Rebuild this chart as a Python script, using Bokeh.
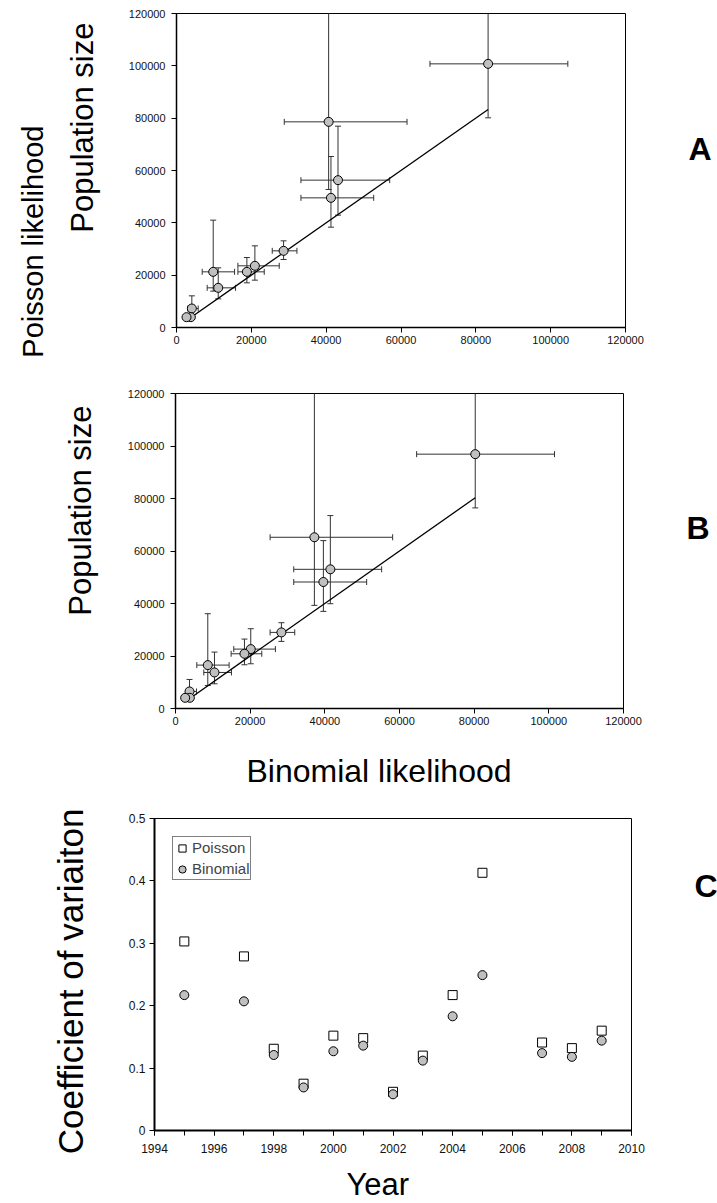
import math
from bokeh.plotting import figure
from bokeh.models import (Range1d, FixedTicker, NumeralTickFormatter, LinearAxis,
                          CustomJSTickFormatter, Title, Legend, LegendItem)
from bokeh.embed import file_html
from bokeh.resources import INLINE

FONT = "Liberation Sans"
ERR = "#333333"
PT_FILL = "#c0c0c0"

# ---------------- data ----------------
ab_ticks = [0, 20000, 40000, 60000, 80000, 100000, 120000]

# Panel A  (x: binomial estimate, y: Poisson estimate)
a_binom    = [83280, 40660, 43160, 41280, 28620, 20950, 18810, 9810, 11150, 4100, 3830, 2680]
a_binom_lo = [67740, 28800, 33260, 33260, 25590, 16410, 16410, 6870, 8200, 3000, 3300, 2400]
a_binom_hi = [104590, 61610, 56980, 52700, 32190, 27460, 23450, 15520, 15780, 5800, 4400, 3000]
a_pois     = [100760, 78600, 56310, 49550, 29300, 23570, 21270, 21270, 15160, 7260, 3950, 3950]
a_pois_lo  = [80130, 52740, 42930, 38340, 25990, 18090, 17070, 13890, 10960, 4710, 3500, 3500]
a_pois_hi  = [122000, 122000, 76940, 65350, 33120, 31210, 26750, 41020, 22800, 12100, 4400, 4400]

# Panel B
b_binom    = [80290, 37200, 41480, 39610, 28370, 20160, 18470, 8650, 10440, 3750, 3840, 2590]
b_binom_lo = [64590, 25340, 31670, 31670, 25340, 15610, 14900, 5710, 7580, 3000, 3400, 2300]
b_binom_hi = [101520, 58160, 55220, 51200, 31940, 26760, 23110, 14360, 14990, 5620, 4300, 2900]
b_pois     = [96890, 65230, 53020, 48190, 28990, 22630, 20850, 16530, 13730, 6490, 4070, 4070]
b_pois_lo  = [76420, 39290, 39920, 37000, 25560, 17040, 16660, 8770, 9410, 4100, 3600, 3600]
b_pois_hi  = [121500, 125000, 73490, 63960, 32680, 30390, 26450, 36110, 21490, 11060, 4500, 4500]

# Panel C
years    = [1995, 1997, 1998, 1999, 2000, 2001, 2002, 2003, 2004, 2005, 2007, 2008, 2009]
cv_pois  = [0.303, 0.279, 0.131, 0.075, 0.152, 0.148, 0.062, 0.120, 0.217, 0.413, 0.141, 0.132, 0.160]
cv_binom = [0.217, 0.207, 0.121, 0.069, 0.127, 0.136, 0.058, 0.112, 0.183, 0.249, 0.124, 0.118, 0.144]
c_xticks = [1994, 1996, 1998, 2000, 2002, 2004, 2006, 2008, 2010]
c_xminor = list(range(1994, 2011))
c_yticks = [0, 0.1, 0.2, 0.3, 0.4, 0.5]


def style_axes(p, tick_size, axis_w):
    p.outline_line_color = "black"
    p.outline_line_width = 1
    p.xgrid.visible = False
    p.ygrid.visible = False
    p.background_fill_color = "white"
    p.border_fill_color = "white"
    for ax in (p.xaxis[0], p.yaxis[0]):
        ax.axis_line_color = "black"
        ax.axis_line_width = axis_w
        ax.major_tick_line_color = "black"
        ax.minor_tick_line_color = "black"
        ax.major_tick_in = 0
        ax.major_tick_out = 5
        ax.major_label_text_font = FONT
        ax.major_label_text_font_size = tick_size
        ax.major_label_text_color = "#111111"
        # invisible spacer label: pushes outer titles away from the axis
        ax.axis_label = " "
        ax.axis_label_text_font_size = "1px"


def side_title(text, size, align="right", offset=0, standoff=0, bold=False):
    return Title(text=text, align=align, offset=offset, standoff=standoff,
                 vertical_align="bottom", text_font=FONT, text_font_size=size,
                 text_font_style="bold" if bold else "normal", text_color="black")


def letter_axis(p, letter, frac, rng, standoff):
    lo, hi = rng
    ax = LinearAxis(ticker=FixedTicker(ticks=[lo + frac * (hi - lo)]),
                    formatter=CustomJSTickFormatter(code="return '%s';" % letter),
                    axis_line_color=None, major_tick_line_color=None,
                    minor_tick_line_color=None, major_label_standoff=standoff,
                    major_label_text_font=FONT, major_label_text_font_size="32px",
                    major_label_text_font_style="bold", major_label_text_color="black")
    p.add_layout(ax, "right")


def scatter_panel(binom, blo, bhi, pois, plo, phi, left, top, fw, fh, bottom):
    p = figure(frame_width=fw, frame_height=fh,
               min_border_left=left, min_border_right=717 - left - fw,
               min_border_top=top, min_border_bottom=bottom,
               x_range=Range1d(0, 120000), y_range=Range1d(0, 120000),
               output_backend="svg", toolbar_location=None)
    style_axes(p, "11px", 1.5)
    for ax in (p.xaxis[0], p.yaxis[0]):
        ax.ticker = FixedTicker(ticks=ab_ticks)
        ax.formatter = NumeralTickFormatter(format="0")
    p.xaxis.major_label_standoff = 3
    p.yaxis.major_label_standoff = 6
    p.yaxis.axis_label_standoff = 22
    # error bars
    p.segment(x0=binom, y0=plo, x1=binom, y1=phi, line_color=ERR, line_width=1)
    p.segment(x0=blo, y0=pois, x1=bhi, y1=pois, line_color=ERR, line_width=1)
    p.scatter(x=binom + binom, y=plo + phi, marker="dash", size=6,
              line_color=ERR, line_width=1)
    p.scatter(x=blo + bhi, y=pois + pois, marker="dash", size=6, angle=math.pi / 2,
              line_color=ERR, line_width=1)
    # 1:1 line across the data range
    lo, hi = min(binom), max(binom)
    p.line(x=[lo, hi], y=[lo, hi], line_color="black", line_width=1.3)
    p.scatter(x=binom, y=pois, size=9, fill_color=PT_FILL, line_color="black", line_width=1)
    return p


# Panel A: frame left 174, top 13, 449x314 -> height 360
pA = scatter_panel(a_binom, a_binom_lo, a_binom_hi, a_pois, a_pois_lo, a_pois_hi,
                   left=174, top=13, fw=449, fh=314, bottom=33)
pA.add_layout(side_title("Population size", "31px", offset=9), "left")
pA.add_layout(side_title("Poisson likelihood", "29px", offset=112, standoff=28), "left")
letter_axis(pA, "A", (327 - 148) / 314, (0, 120000), 57)

# Panel B: frame left 175, top 393 (33 below its own top), 448x315 -> height 432
pB = scatter_panel(b_binom, b_binom_lo, b_binom_hi, b_pois, b_pois_lo, b_pois_hi,
                   left=175, top=33, fw=448, fh=315, bottom=84)
pB.yaxis.axis_label_standoff = 23
pB.xaxis.axis_label_standoff = 19
pB.add_layout(side_title("Population size", "31px", offset=12), "left")
pB.add_layout(side_title("Binomial likelihood", "32px", align="left", offset=71), "below")
letter_axis(pB, "B", (708 - 527) / 315, (0, 120000), 57)

# Panel C: frame left 154, 26 below its top, 477x312 -> height 411
pC = figure(frame_width=477, frame_height=312,
            min_border_left=154, min_border_right=717 - 154 - 477,
            min_border_top=26, min_border_bottom=73,
            x_range=Range1d(1994, 2010), y_range=Range1d(0, 0.5),
            output_backend="svg", toolbar_location=None)
style_axes(pC, "12px", 2)
pC.xaxis.ticker = FixedTicker(ticks=c_xticks, minor_ticks=c_xminor)
pC.xaxis.minor_tick_in = 0
pC.xaxis.minor_tick_out = 5
pC.xaxis.major_label_standoff = 8
pC.xaxis.axis_label_standoff = 5
pC.yaxis.ticker = FixedTicker(ticks=c_yticks, minor_ticks=[])
pC.yaxis.formatter = CustomJSTickFormatter(code="return tick == 0 ? '0' : tick.toFixed(1);")
pC.yaxis.major_label_standoff = 4
pC.yaxis.axis_label_standoff = 32

r_p = pC.scatter(x=years, y=cv_pois, marker="square", size=9, fill_color="white",
                 line_color="black", line_width=1)
r_b = pC.scatter(x=years, y=cv_binom, marker="circle", size=9, fill_color=PT_FILL,
                 line_color="black", line_width=1)

legend = Legend(items=[LegendItem(label="Poisson", renderers=[r_p]),
                       LegendItem(label="Binomial", renderers=[r_b])],
                location="top_left", margin=18, padding=0, spacing=0,
                glyph_width=18, glyph_height=18, label_height=21,
                label_standoff=1, label_text_font=FONT, label_text_font_size="15px",
                border_line_color="black", border_line_width=1,
                background_fill_color="white", background_fill_alpha=1)
pC.add_layout(legend)

pC.add_layout(side_title("Coefficient of variaiton", "35px", offset=-10), "left")
pC.add_layout(side_title("Year", "31px", align="left", offset=192), "below")
letter_axis(pC, "C", (1130 - 885) / 312, (0, 0.5), 57)

open("out.html", "w").write(file_html([pA, pB, pC], INLINE))
